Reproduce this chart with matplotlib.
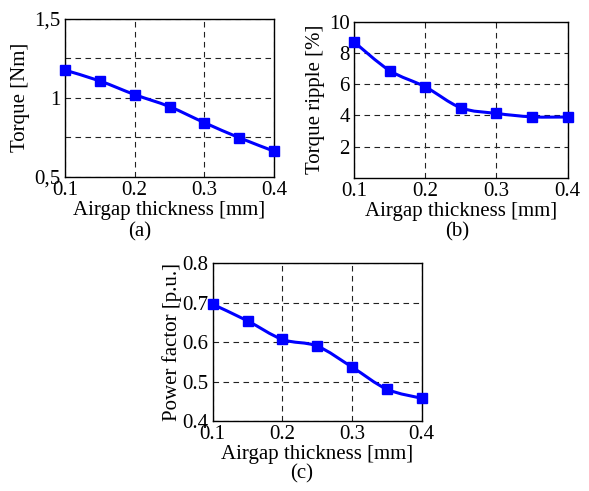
import matplotlib
matplotlib.use('Agg')
import matplotlib.pyplot as plt
from matplotlib.path import Path
from matplotlib.patches import PathPatch

plt.rcParams['font.family'] = ['Liberation Serif', 'DejaVu Serif']
plt.rcParams['font.size'] = 15

# airgap thickness [mm]
gap = [0.1, 0.15, 0.2, 0.25, 0.3, 0.35, 0.4]
torque = [1.174, 1.106, 1.02, 0.944, 0.843, 0.748, 0.663]
ripple = [8.70, 6.87, 5.83, 4.49, 4.13, 3.91, 3.90]
pf = [0.696, 0.654, 0.607, 0.590, 0.537, 0.481, 0.458]

xticks = [0.1, 0.2, 0.3, 0.4]
xticklabels = ['0.1', '0.2', '0.3', '0.4']
yt_a = [0.5, 0.75, 1.0, 1.25, 1.5]
ytl_a = ['0,5', '', '1', '', '1,5']
yt_b = [2, 4, 6, 8, 10]
ytl_b = ['2', '4', '6', '8', '10']
yt_c = [0.4, 0.5, 0.6, 0.7, 0.8]
ytl_c = ['0.4', '0.5', '0.6', '0.7', '0.8']

BLUE = '#0000ff'


def smooth_path(x, y):
    # catmull-rom curve through the points, drawn as cubic beziers
    px = [x[0]] + list(x) + [x[-1]]
    py = [y[0]] + list(y) + [y[-1]]
    verts = [(x[0], y[0])]
    codes = [Path.MOVETO]
    for i in range(1, len(px) - 2):
        c1 = (px[i] + (px[i + 1] - px[i - 1]) / 6, py[i] + (py[i + 1] - py[i - 1]) / 6)
        c2 = (px[i + 1] - (px[i + 2] - px[i]) / 6, py[i + 1] - (py[i + 2] - py[i]) / 6)
        verts += [c1, c2, (px[i + 1], py[i + 1])]
        codes += [Path.CURVE4] * 3
    return Path(verts, codes)


def panel(rect, y, yt, ytl, ylo, ylabel, ylab_x):
    ax = fig.add_axes(rect)
    ax.add_patch(PathPatch(smooth_path(gap, y), fc='none', ec=BLUE, lw=2.2, zorder=3))
    ax.plot(gap, y, 's', color=BLUE, ms=6.5, zorder=4, clip_on=False)
    ax.set_xlim(0.1, 0.4)
    ax.set_ylim(ylo, yt[-1])
    ax.set_xticks(xticks)
    ax.set_xticklabels(xticklabels)
    ax.set_yticks(yt)
    ax.set_yticklabels(ytl)
    ax.tick_params(length=0, pad=3)
    ax.grid(True, color='#222222', ls=(0, (5, 4)), lw=0.8)
    for s in ax.spines.values():
        s.set_linewidth(1.0)
    ax.set_xlabel('Airgap thickness [mm]', va='center')
    ax.xaxis.set_label_coords(0.5, -0.213)
    ax.set_ylabel(ylabel, va='center')
    ax.yaxis.set_label_coords(ylab_x, 0.5)
    return ax


fig = plt.figure(figsize=(5.89, 4.91), dpi=100)

panel([0.1104, 0.6395, 0.3548, 0.3228], torque, yt_a, ytl_a, 0.5, 'Torque [Nm]', -0.215)
panel([0.601, 0.6374, 0.3628, 0.3187], ripple, yt_b, ytl_b, 0, 'Torque ripple [%]', -0.18)
panel([0.3611, 0.1422, 0.3548, 0.3218], pf, yt_c, ytl_c, 0.4, 'Power factor [p.u.]', -0.196)

fig.text(140 / 589, 1 - 232 / 491, '(a)', ha='center', va='center')
fig.text(457 / 589, 1 - 232 / 491, '(b)', ha='center', va='center')
fig.text(302 / 589, 1 - 474 / 491, '(c)', ha='center', va='center')

fig.savefig('out.png', dpi=100)
